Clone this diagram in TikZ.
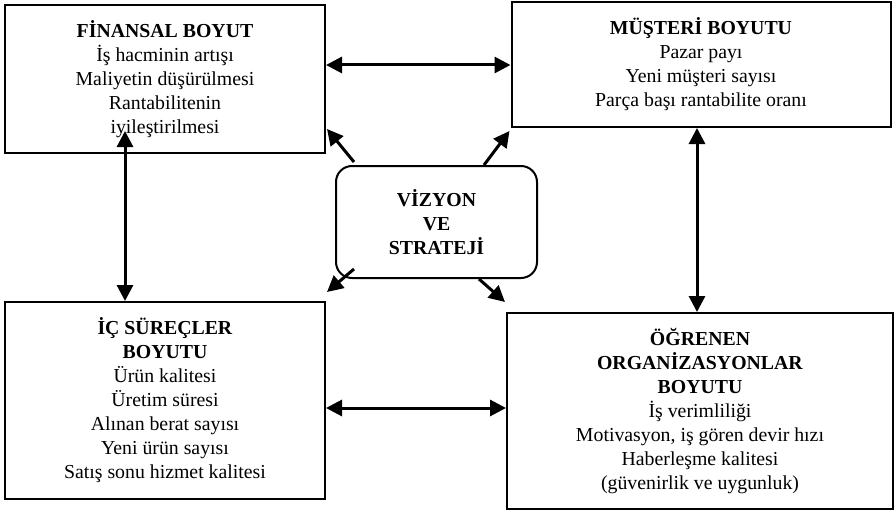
\documentclass[tikz,border=0pt]{standalone}
\usepackage{fontspec}
\setmainfont{Liberation Serif}
\usetikzlibrary{arrows.meta,calc}
\begin{document}
\begin{tikzpicture}[x=1pt,y=-1pt,
  boxstyle/.style={draw,line width=2pt,inner sep=0pt,align=center,font=\fontsize{19.8}{24}\selectfont},
  arr/.style={line width=3pt,-{Triangle[length=16pt,width=16pt]}},
  darr/.style={line width=3pt,{Triangle[length=16pt,width=16pt]}-{Triangle[length=16pt,width=16pt]}}]
\useasboundingbox (0,0) rectangle (895,511);
\node[boxstyle,minimum width=320pt,minimum height=148pt] (b1) at (165,79)
  {\textbf{FİNANSAL BOYUT}\\İş hacminin artışı\\Maliyetin düşürülmesi\\Rantabilitenin\\iyileştirilmesi};
\node[boxstyle,minimum width=379pt,minimum height=125pt] (b2) at (701,64.5)
  {\textbf{MÜŞTERİ BOYUTU}\\Pazar payı\\Yeni müşteri sayısı\\Parça başı rantabilite oranı};
\node[boxstyle,rounded corners=16pt,minimum width=201pt,minimum height=112pt] (v) at (436.5,222)
  {\textbf{VİZYON}\\\textbf{VE}\\\textbf{STRATEJİ}};
\node[boxstyle,minimum width=320pt,minimum height=197pt] (b3) at (165,400.5)
  {\textbf{İÇ SÜREÇLER}\\\textbf{BOYUTU}\\Ürün kalitesi\\Üretim süresi\\Alınan berat sayısı\\Yeni ürün sayısı\\Satış sonu hizmet kalitesi};
\node[boxstyle,minimum width=386pt,minimum height=196pt] (b4) at (700,411)
  {\textbf{ÖĞRENEN}\\\textbf{ORGANİZASYONLAR}\\\textbf{BOYUTU}\\İş verimliliği\\Motivasyon, iş gören devir hızı\\Haberleşme kalitesi\\(güvenirlik ve uygunluk)};
% double arrows
\draw[darr] (b1.east |- 0,65) -- (b2.west |- 0,65);
\draw[darr] (b3.east |- 0,408) -- (b4.west |- 0,408);
\draw[darr] ($(b1.south)+(-40,-23)$) -- (b3.north -| 125,0);
\draw[darr] (b2.south -| 697,0) -- (b4.north -| 697,0);
% diagonal arrows
\draw[arr] ($(v.north west)+(19,-3)$) -- ($(b1.south east)+(1,-25)$);
\draw[arr] ($(v.north east)+(-54,0)$) -- ($(b2.south west)+(-1,3)$);
\draw[arr] ($(v.south west)+(19,-10)$) -- ($(b3.north east)+(1,-9)$);
\draw[arr] ($(v.south east)+(-59,0)$) -- ($(b4.north west)+(-1,-10)$);
\end{tikzpicture}
\end{document}
